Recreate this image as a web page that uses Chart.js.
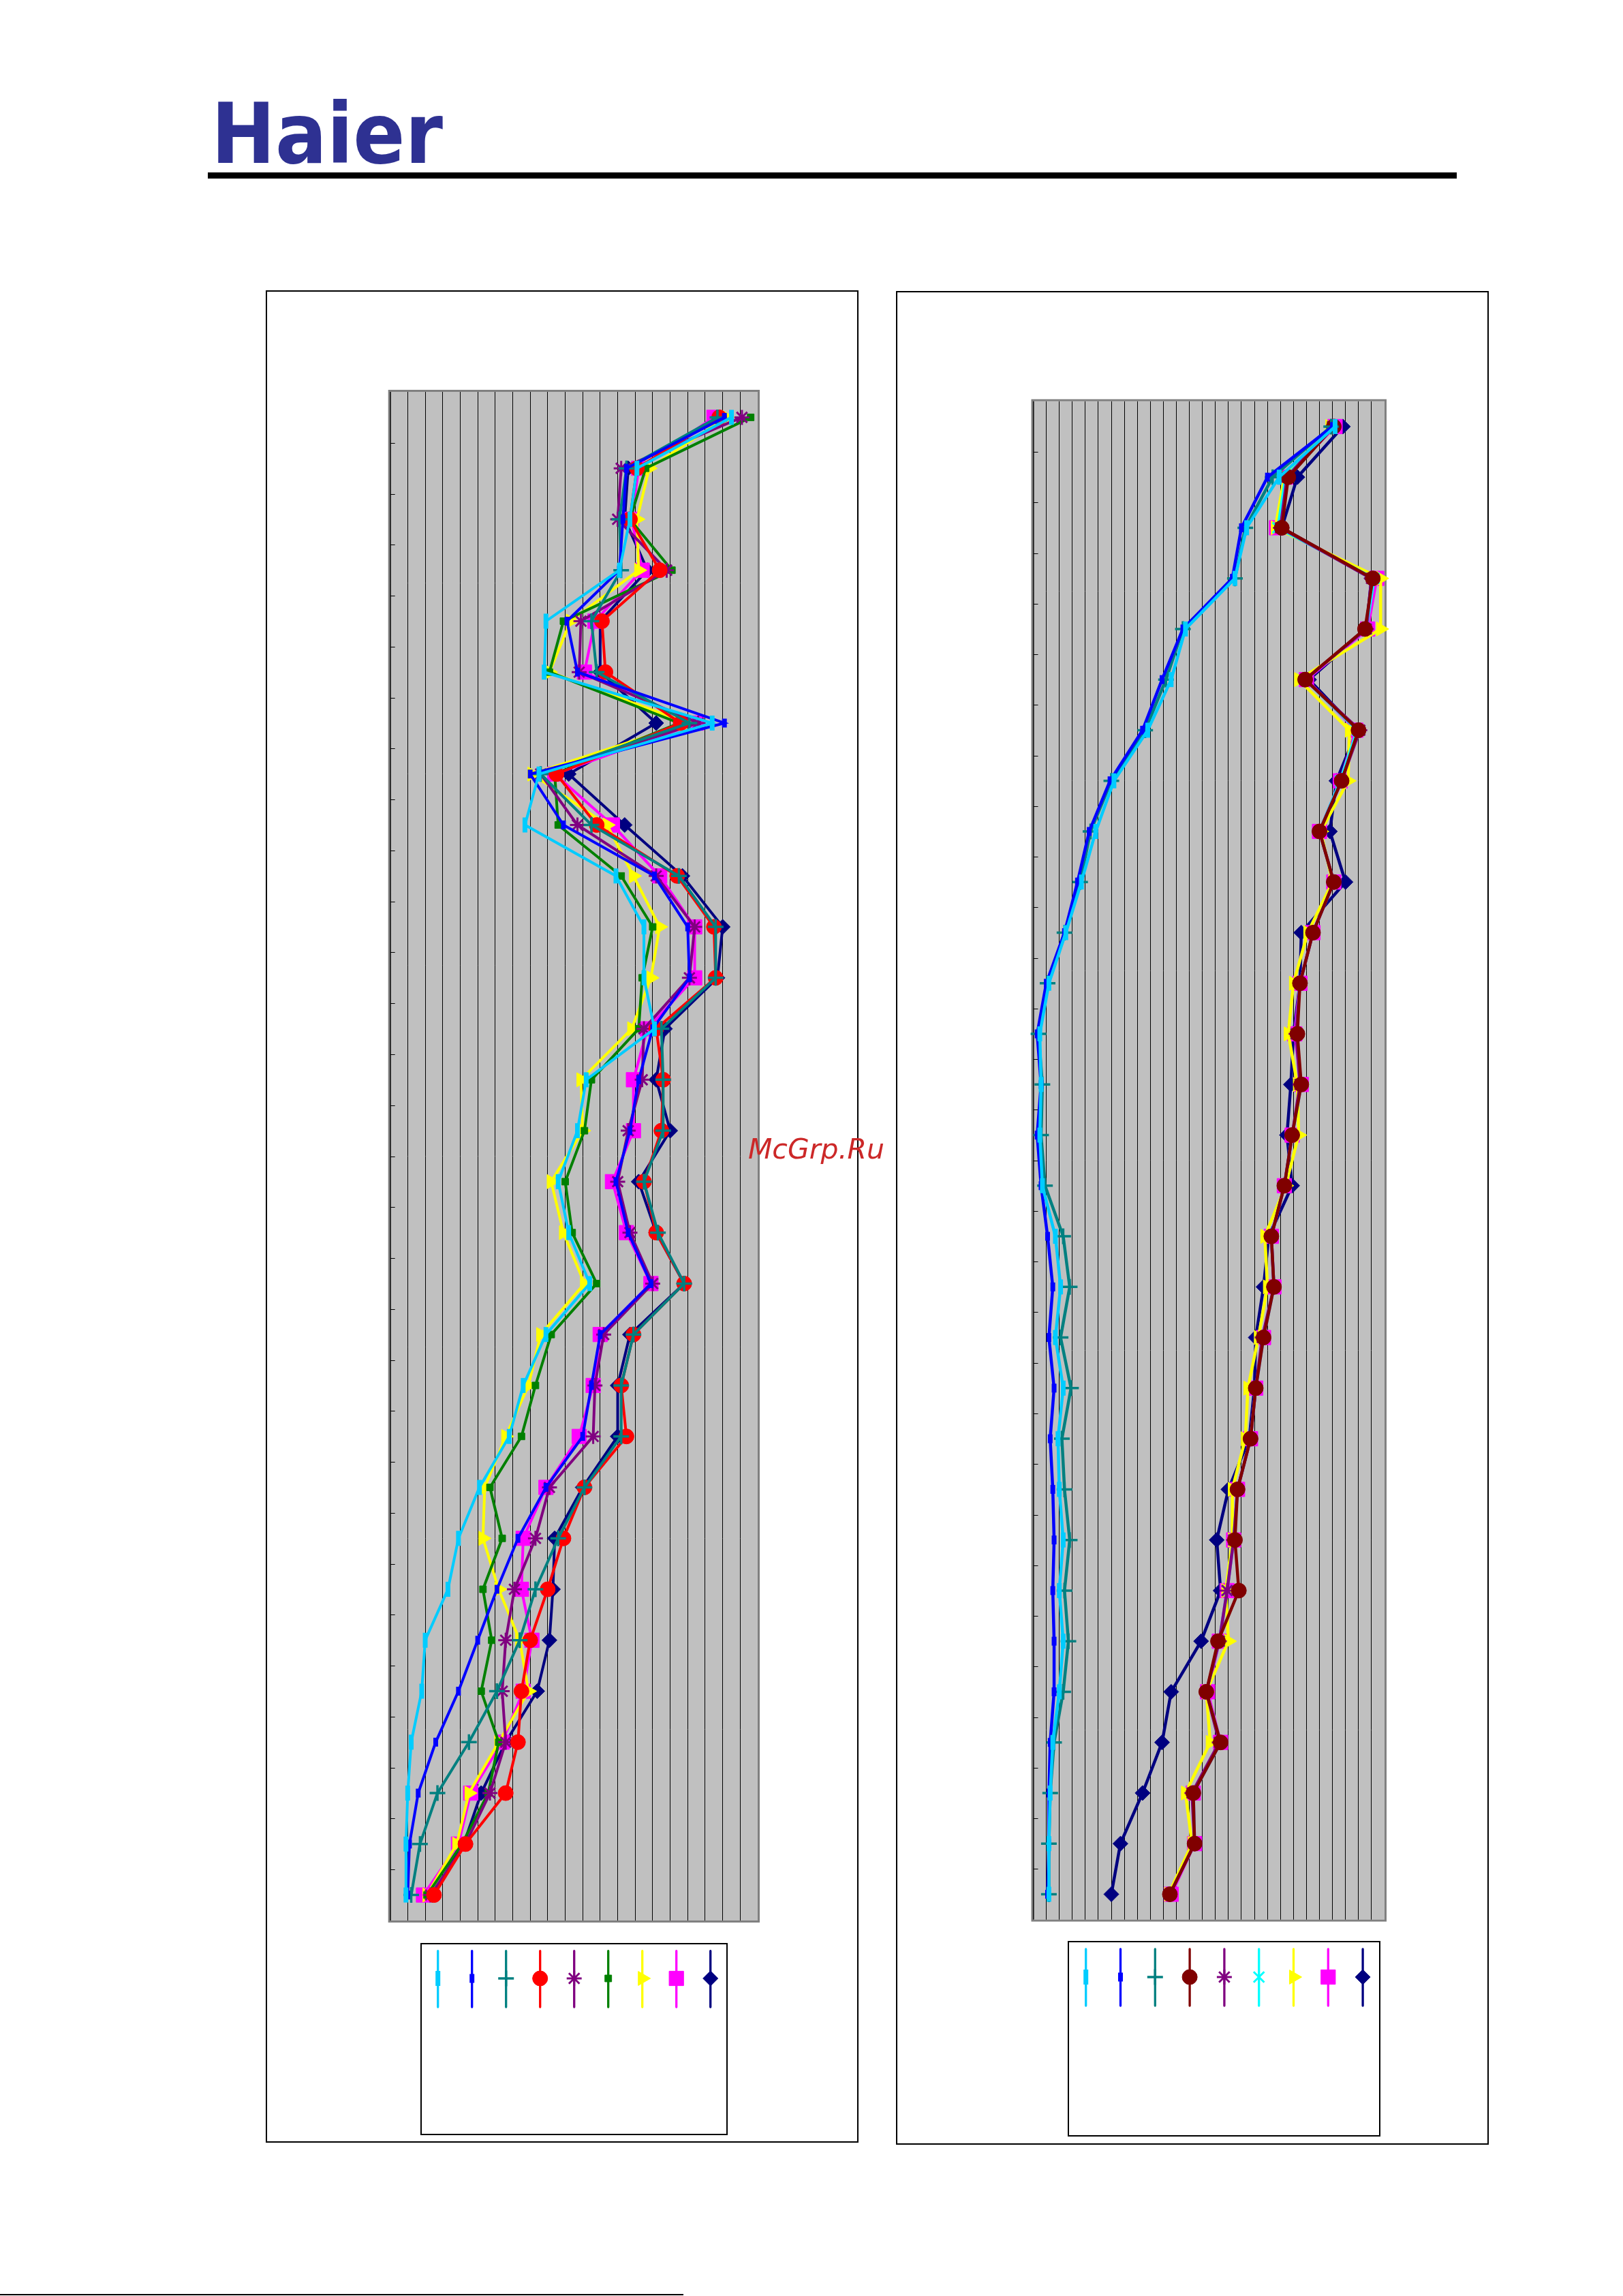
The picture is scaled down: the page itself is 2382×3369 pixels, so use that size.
<!DOCTYPE html>
<html>
<head>
<meta charset="utf-8">
<script src="https://cdn.jsdelivr.net/npm/chart.js@4.4.1/dist/chart.umd.min.js"></script>
<style>
  html, body { margin: 0; padding: 0; background: #fff; }
  #page { position: relative; width: 2382px; height: 3369px; overflow: hidden; background: #fff; }
  #logo {
    position: absolute; left: 310px; top: 135px;
    font-family: "DejaVu Sans Condensed", "DejaVu Sans", sans-serif;
    font-weight: bold; font-size: 123px; line-height: 1; color: #2e3192;
    white-space: nowrap; transform-origin: 0 0;
  }
  .rule { position: absolute; left: 305px; top: 253px; width: 1833px; height: 9px; background: #000; }
  .box { position: absolute; border: 2px solid #000; box-sizing: border-box; }
  canvas { position: absolute; }
  #mark {
    position: absolute; left: 1098px; top: 1666px;
    font-family: "DejaVu Sans", sans-serif; font-style: italic; font-size: 41px; line-height: 1;
    color: rgb(204, 40, 40); white-space: nowrap;
  }
  .foot { position: absolute; left: 0; top: 3366px; width: 1003px; height: 2px; background: #000; }
</style>
</head>
<body>
<div id="page">
  <div id="logo">Haier</div>
  <div class="rule"></div>

  <div class="box" style="left:390px;top:426px;width:870px;height:2718px;"></div>
  <div class="box" style="left:1315px;top:427px;width:870px;height:2720px;"></div>
  <canvas id="left-chart" width="870" height="2718" style="left:390px;top:426px;"></canvas>
  <canvas id="right-chart" width="870" height="2720" style="left:1315px;top:427px;"></canvas>

  <div id="mark">McGrp.Ru</div>
  <div class="foot"></div>
</div>

<script>
/* ===================================
   DATA
   =================================== */

const categories = ['1', '2', '3', '4', '5', '6', '7', '8', '9', '10',
  '11', '12', '13', '14', '15', '16', '17', '18', '19', '20',
  '21', '22', '23', '24', '25', '26', '27', '28', '29', '30'];

// value-axis grid positions (no labels are printed in the picture)
const leftTicks  = [0, 5, 10, 15, 20, 25, 30, 35, 40, 45, 50, 55, 60, 65, 70, 75, 80, 85, 90, 95, 100, 105];
const rightTicks = [0, 5, 10, 15, 20, 25, 30, 35, 40, 45, 50, 55, 60, 65, 70, 75, 80, 85, 90, 95, 100, 105, 110, 115, 120, 125, 130, 135];

// left chart
const leftCyan    = [97.5, 70.5, 68.5, 65.5, 44.5, 44, 92, 42.5, 38.5, 64.5, 72.5, 72.5, 75.5, 56, 53.5, 48, 51, 57, 44.5, 38, 34, 25.5, 19.5, 16.5, 10, 9, 6, 5, 4.5, 4.5];
const leftBlue    = [95.5, 67.5, 66.5, 65.5, 50.5, 53.5, 95.5, 40, 49.5, 75.5, 85, 85.5, 75, 71, 68.5, 64.5, 68, 74.5, 60, 57.5, 55, 44.5, 36.5, 30.5, 25, 19.5, 13, 8, 5.5, 5];
const leftTeal    = [93.5, 67.5, 65.5, 66, 57.5, 59, 85.5, 43, 57.5, 82.5, 93, 93, 77.5, 78, 78, 72.5, 76.5, 84, 69.5, 66, 66, 55.5, 48, 41.5, 37, 30.5, 22.5, 13.5, 8.5, 6];
const leftRed     = [94, 70.5, 68.5, 77, 60.5, 61.5, 83, 47.5, 59, 82, 92.5, 93, 76, 78, 77.5, 72.5, 76, 84, 69.5, 66, 67.5, 55.5, 49.5, 45, 40, 37.5, 36.5, 33, 21.5, 12.5];
const leftPurple  = [100.5, 66, 65, 79, 54.5, 54, 88, 43, 53.5, 76, 87, 85.5, 72.5, 72, 68, 65, 68.5, 75, 61, 58.5, 58, 45.5, 41.5, 35.5, 33, 32, 33, 28.5, 21.5, 11.5];
const leftGreen   = [103, 73, 68.5, 80.5, 49.5, 45.5, 82.5, 47, 48, 66, 75, 72, 71, 57.5, 55.5, 50, 52, 59, 46, 41.5, 37.5, 28.5, 32, 26.5, 29, 26, 31, 28, 20.5, 10.5];
const leftYellow  = [96, 74, 70.5, 71, 51.5, 45.5, 85, 40.5, 62, 69.5, 77, 74.5, 69, 54.5, 55, 46, 49.5, 55.5, 43, 39.5, 33, 27, 26.5, 31, 37, 39.5, 31, 22.5, 19, 10.5];
const leftMagenta = [92.5, 71, 69, 72, 58.5, 55.5, 87.5, 47, 63.5, 77, 87, 87, 73.5, 69.5, 69.5, 63.5, 67.5, 74.5, 60, 58, 54, 44.5, 38, 37.5, 40.5, 38, 32, 23, 19.5, 9.5];
const leftNavy    = [94, 68, 67, 73.5, 60, 60, 76, 51, 67, 83.5, 95, 93.5, 78.5, 76, 80, 71, 76, 84, 68.5, 65, 65, 55, 47, 46.5, 45.5, 42, 33, 26, 21, 12];

// right chart
const rightCyan    = [116, 94.5, 82, 77.5, 58.5, 53, 44, 31, 24, 18.5, 12.5, 6, 2.5, 3, 2.5, 3.5, 8.5, 10.5, 8.5, 11.5, 9.5, 10, 11.5, 10, 11.5, 10, 7.5, 6.5, 6, 6];
const rightBlue    = [115, 90, 80, 76.5, 57.5, 49.5, 42, 29.5, 21.5, 17, 12, 5, 1.5, 3, 1.5, 3, 5.5, 7.5, 6, 8, 6.5, 7.5, 8, 7.5, 8, 8, 6.5, 6, 6, 5.5];
const rightTeal    = [114.5, 92, 81.5, 77.5, 57.5, 51, 43, 30, 22, 18, 12, 5.5, 2, 3.5, 3, 4.5, 11.5, 14, 10.5, 14.5, 11, 12, 14, 12, 13.5, 11.5, 8, 6.5, 6, 6];
const rightMaroon  = [115.5, 98, 95.5, 130.5, 127.5, 104.5, 125, 118.5, 110, 115.5, 107.5, 102.5, 101.5, 103, 99.5, 96.5, 91.5, 92.5, 88.5, 85.5, 83.5, 78.5, 77.5, 79, 71, 66.5, 72, 61.5, 62, 52.5];
const rightPurple  = [115, 97.5, 95, 130, 128, 104.5, 125.5, 118.5, 110, 115.5, 107.5, 102.5, 101, 102.5, 99.5, 96.5, 91.5, 92.5, 88, 85.5, 83.5, 78.5, 77, 74.5, 71.5, 66.5, 71.5, 61, 62, 52.5];
const rightAqua    = [115.5, 97, 94, 131, 128, 104.5, 124.5, 118, 110, 115.5, 107.5, 102.5, 101, 103, 99.5, 96.5, 91.5, 92.5, 88.5, 85.5, 83.5, 78.5, 77, 74.5, 71.5, 66.5, 72, 61.5, 62, 52.5];
const rightYellow  = [114, 96.5, 93, 133.5, 133.5, 102, 121.5, 121, 110.5, 115, 105.5, 100, 98, 101.5, 102, 97, 89, 90, 86.5, 82.5, 81.5, 76.5, 76.5, 74, 75, 66.5, 68, 58.5, 61, 52];
const rightMagenta = [116, 97, 93.5, 132, 128.5, 105, 124, 118, 110, 115.5, 107.5, 102.5, 100.5, 103, 99.5, 96.5, 91.5, 92.5, 88.5, 85.5, 83.5, 78.5, 77, 74.5, 71.5, 67, 72, 61.5, 62, 53];
const rightNavy    = [119, 101.5, 95.5, 130, 128, 106, 124.5, 116.5, 114, 120, 103, 102.5, 100, 99, 97.5, 99.5, 90.5, 88.5, 85.5, 85, 83, 75, 70.5, 72, 64.5, 53, 49.5, 42, 33.5, 30];

/* ===================================
   MARKERS / SERIES STYLE
   =================================== */

const MARK = {
  dashTall:  { pointStyle: 'line', pointRotation: 90, pointRadius: 11, pointBorderWidth: 7 },
  dashShort: { pointStyle: 'line', pointRotation: 90, pointRadius: 6.5, pointBorderWidth: 7 },
  plus:      { pointStyle: 'cross', pointRadius: 11.5, pointBorderWidth: 3.5 },
  circle:    { pointStyle: 'circle', pointRadius: 11, pointBorderWidth: 1 },
  star:      { pointStyle: 'star', pointRadius: 11, pointBorderWidth: 3 },
  cross:     { pointStyle: 'crossRot', pointRadius: 11, pointBorderWidth: 3 },
  smallSq:   { pointStyle: 'rect', pointRadius: 7, pointBorderWidth: 1 },
  triangle:  { pointStyle: 'triangle', pointRotation: 90, pointRadius: 12, pointBorderWidth: 1 },
  bigSq:     { pointStyle: 'rect', pointRadius: 15, pointBorderWidth: 1 },
  diamond:   { pointStyle: 'rectRot', pointRadius: 11, pointBorderWidth: 1 },
};

function series(data, color, mark, width) {
  return Object.assign({
    data: data,
    borderColor: color,
    backgroundColor: color,
    pointBackgroundColor: color,
    pointBorderColor: color,
    pointRotation: 0,
    borderWidth: width,
    tension: 0,
    clip: false,
  }, mark);
}

/* ===================================
   PLOT FRAME + EMPTY LEGEND PLUGIN
   =================================== */

const frameAndLegend = {
  id: 'frameAndLegend',
  beforeDraw(chart) {
    const a = chart.chartArea, ctx = chart.ctx;
    ctx.save();
    ctx.fillStyle = '#c0c0c0';
    ctx.fillRect(a.left, a.top, a.right - a.left, a.bottom - a.top);
    ctx.restore();
  },
  beforeDatasetsDraw(chart) {
    const a = chart.chartArea, ctx = chart.ctx;
    const yScale = chart.scales.y;
    ctx.save();
    ctx.strokeStyle = '#808080';
    ctx.lineWidth = 3;
    ctx.strokeRect(a.left - 1.5, a.top - 1.5, a.right - a.left + 3, a.bottom - a.top + 3);
    ctx.strokeStyle = '#000';
    ctx.lineWidth = 1.2;
    ctx.beginPath();
    ctx.moveTo(a.left + 0.5, a.top);
    ctx.lineTo(a.left + 0.5, a.bottom);
    // tick marks between categories, pointing into the plot
    for (let i = 0; i < categories.length - 1; i++) {
      const y = Math.round(yScale.getPixelForValue(i + 0.5)) + 0.5;
      ctx.moveTo(a.left, y);
      ctx.lineTo(a.left + 7, y);
    }
    ctx.stroke();
    ctx.restore();
  },
  afterDraw(chart, args, opts) {
    const ctx = chart.ctx;
    const b = opts.box;
    ctx.save();
    ctx.strokeStyle = '#000';
    ctx.lineWidth = 2;
    ctx.strokeRect(b[0], b[1], b[2], b[3]);
    chart.data.datasets.forEach((ds, i) => {
      const x = opts.x0 + opts.step * i;
      ctx.strokeStyle = ds.borderColor;
      ctx.lineWidth = 3.3;
      ctx.lineCap = 'round';
      ctx.beginPath();
      ctx.moveTo(x, opts.lineTop);
      ctx.lineTo(x, opts.lineBottom);
      ctx.stroke();
      ctx.lineCap = 'butt';
      ctx.fillStyle = ds.pointBackgroundColor;
      ctx.strokeStyle = ds.pointBorderColor;
      ctx.lineWidth = ds.pointBorderWidth;
      Chart.helpers.drawPoint(ctx, {
        pointStyle: ds.pointStyle,
        rotation: ds.pointRotation,
        radius: ds.pointRadius,
        borderWidth: ds.pointBorderWidth,
      }, x, opts.markerY);
    });
    ctx.restore();
  }
};

/* ===================================
   CHART RENDERING
   =================================== */

function renderChart(canvasId, datasets, ticks, padding, legend) {
  const ctx = document.getElementById(canvasId).getContext('2d');
  return new Chart(ctx, {
    type: 'line',
    data: { labels: categories, datasets: datasets },
    plugins: [frameAndLegend],
    options: {
      indexAxis: 'y',
      responsive: false,
      devicePixelRatio: 1,
      animation: false,
      events: [],
      layout: { padding: padding },
      plugins: {
        legend: { display: false },
        title: { display: false },
        tooltip: { enabled: false },
        frameAndLegend: legend,
      },
      scales: {
        x: {
          type: 'linear',
          min: ticks[0],
          max: ticks[ticks.length - 1],
          ticks: { display: false, stepSize: 5, maxTicksLimit: ticks.length },
          afterBuildTicks: s => { s.ticks = ticks.map(v => ({ value: v })); },
          grid: { color: '#000', lineWidth: 1, drawTicks: false },
          border: { display: false },
          afterFit: s => { s.height = 0; },
        },
        y: {
          type: 'category',
          offset: true,
          ticks: { display: false },
          grid: { display: false, drawTicks: false },
          border: { display: false },
          afterFit: s => { s.width = 0; },
        },
      },
    },
  });
}

renderChart('left-chart', [
  series(leftCyan,    '#00ccff', MARK.dashTall, 4),
  series(leftBlue,    '#0000ff', MARK.dashShort, 4),
  series(leftTeal,    '#008080', MARK.plus, 4),
  series(leftRed,     '#ff0000', MARK.circle, 4),
  series(leftPurple,  '#800080', MARK.star, 4),
  series(leftGreen,   '#008000', MARK.smallSq, 4),
  series(leftYellow,  '#ffff00', MARK.triangle, 4),
  series(leftMagenta, '#ff00ff', MARK.bigSq, 4),
  series(leftNavy,    '#000080', MARK.diamond, 4),
], leftTicks, { left: 182.7, top: 149, right: 148, bottom: 326 }, {
  box: [228, 2426, 449, 280], x0: 252.7, step: 50,
  lineTop: 2436.7, lineBottom: 2519, markerY: 2477,
});

renderChart('right-chart', [
  series(rightCyan,    '#00ccff', MARK.dashTall, 4.5),
  series(rightBlue,    '#0000ff', MARK.dashShort, 4.5),
  series(rightTeal,    '#008080', MARK.plus, 4.5),
  series(rightMaroon,  '#800000', MARK.circle, 4.5),
  series(rightPurple,  '#800080', MARK.star, 4.5),
  series(rightAqua,    '#00ffff', MARK.cross, 4.5),
  series(rightYellow,  '#ffff00', MARK.triangle, 4.5),
  series(rightMagenta, '#ff00ff', MARK.bigSq, 4.5),
  series(rightNavy,    '#000080', MARK.diamond, 4.5),
], rightTicks, { left: 201.5, top: 161.75, right: 153, bottom: 330.4 }, {
  box: [253, 2422, 457, 285], x0: 278.7, step: 50.8,
  lineTop: 2433, lineBottom: 2516, markerY: 2474,
});

// fit the logo word to the width it has in the picture
const logo = document.getElementById('logo');
const logoWidth = logo.getBoundingClientRect().width;
logo.style.transform = 'scaleX(' + (340 / logoWidth) + ')';
</script>
</body>
</html>
